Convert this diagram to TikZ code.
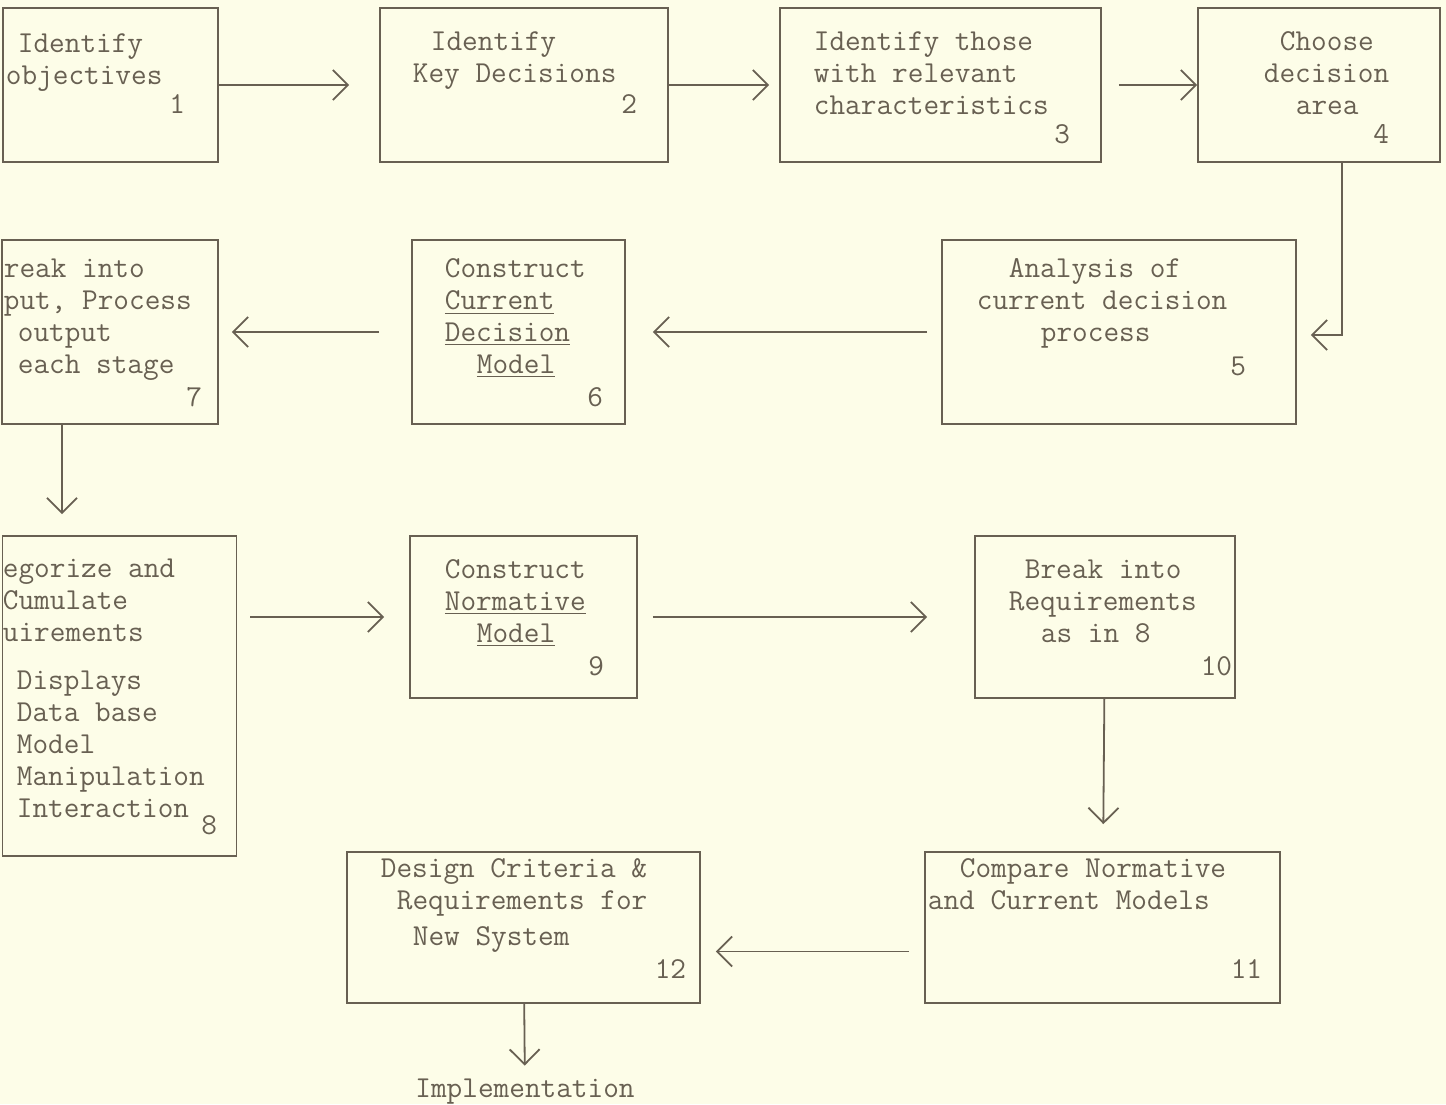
\documentclass[tikz,border=0pt]{standalone}
\usepackage{xcolor}
\usetikzlibrary{arrows.meta,positioning}
\definecolor{paper}{RGB}{253,253,232}
\definecolor{ink}{RGB}{104,96,82}

\begin{document}
\begin{tikzpicture}[x=0.5pt, y=-0.5pt, ->, >={Straight Barb[length=7.5pt,width=15pt]}, line width=0.9pt, draw=ink]

\tikzstyle{box}=[draw=ink, rectangle, inner sep=0pt]
\tikzstyle{txt}=[text=ink, font=\fontsize{15.2}{16}\selectfont\ttfamily, inner sep=0pt, anchor=north west, align=left]
\tikzstyle{num}=[txt, anchor=base east]

\fill[-, paper] (0,0) rectangle (1446,1104);
\useasboundingbox (0,0) rectangle (1446,1104);

% boxes
\node[box, minimum width=107.5pt, minimum height=77pt] (b1) at (110.5,85) {};
\node[box, minimum width=144pt, minimum height=77pt] (b2) at (524,85) {};
\node[box, minimum width=160.5pt, minimum height=77pt] (b3) at (940.5,85) {};
\node[box, minimum width=121pt, minimum height=77pt] (b4) at (1319,85) {};
\node[box, minimum width=177pt, minimum height=92pt] (b5) at (1119,332) {};
\node[box, minimum width=106.5pt, minimum height=92pt] (b6) at (518.5,332) {};
\node[box, minimum width=108pt, minimum height=92pt] (b7) at (110,332) {};
\node[box, minimum width=117pt, minimum height=160pt] (b8) at (119.5,696) {};
\node[box, minimum width=113.5pt, minimum height=81pt] (b9) at (523.5,617) {};
\node[box, minimum width=130pt, minimum height=81pt] (b10) at (1105,617) {};
\node[box, minimum width=177.5pt, minimum height=75.5pt] (b11) at (1102.5,927.5) {};
\node[box, minimum width=176.5pt, minimum height=75.5pt] (b12) at (523.5,927.5) {};

% texts
\node[txt] (t1) at (5,33) {\hspace*{6pt}Identify\\objectives};
\node[txt] (t2) at (412,31) {\hspace*{9pt}Identify\\Key Decisions};
\node[txt] (t3) at (813,31) {Identify those\\with relevant\\characteristics};
\node[txt] (t4) at (1263,31) {\hspace*{8pt}Choose\\decision\\\hspace*{16pt}area};
\node[txt] (t5) at (976,258) {\hspace*{16pt}Analysis of\\current decision\\\hspace*{32pt}process};
\node[txt] (t6) at (444,258) {Construct\\\underline{Current}\\\underline{Decision}\\\hspace*{16pt}\underline{Model}};
\node[txt] (t7) at (3,258) {reak into\\put, Process\\\hspace*{7pt}output\\\hspace*{7pt}each stage};
\node[txt] (t8) at (2,558) {egorize and\\Cumulate\\uirements\\[8pt]\hspace*{7pt}Displays\\\hspace*{7pt}Data base\\\hspace*{7pt}Model\\\hspace*{7pt}Manipulation\\\hspace*{7pt}Interaction};
\node[txt] (t9) at (444,559) {Construct\\\underline{Normative}\\\hspace*{16pt}\underline{Model}};
\node[txt] (t10) at (1008,559) {\hspace*{8pt}Break into\\Requirements\\\hspace*{16pt}as in 8};
\node[txt] (t11) at (927,858) {\hspace*{16pt}Compare Normative\\and Current Models};
\node[txt] (t12) at (380,858) {Design Criteria \&\\\hspace*{8pt}Requirements for\\[2pt]\hspace*{16pt}New System};
\node[txt, anchor=base] (impl) at (525,1097) {Implementation};

% numbers
\node[num] (n1) at (186,113) {1};
\node[num] (n2) at (638,113) {2};
\node[num] (n3) at (1071,143) {3};
\node[num] (n4) at (1390,143) {4};
\node[num] (n5) at (1247,375) {5};
\node[num] (n6) at (604,406) {6};
\node[num] (n7) at (203,406) {7};
\node[num] (n8) at (218,834) {8};
\node[num] (n9) at (605,675) {9};
\node[num] (n10) at (1233,675) {10};
\node[num] (n11) at (1263,978) {11};
\node[num] (n12) at (687,978) {12};

% connectors
\path
(b1) edge[shorten >=15pt] (b2)
(b2) edge[shorten >=5pt] (b3)
(b3) edge[shorten <=8.5pt] (b4)
(b5) edge[shorten <=7pt, shorten >=13.5pt] (b6)
(b6) edge[shorten <=16pt, shorten >=6.5pt] (b7)
(b8.east |- b9.west) edge[shorten <=6.5pt, shorten >=12.5pt] (b9.west)
(b9) edge[shorten <=7.5pt, shorten >=23.5pt] (b10)
(b10) edge[shorten >=13.5pt] (b11)
([yshift=-12pt]b11.west) edge[shorten <=7.5pt, shorten >=7.5pt] ([yshift=-12pt]b12.east)
(b12) edge[shorten >=6pt] (impl);

\draw[shorten >=7pt] ([xshift=11.5pt]b4.south) |- ([yshift=-1.5pt]b5.east);
\draw[shorten >=10.5pt] ([xshift=-24pt]b7.south) -- ([xshift=-24pt]b7.south |- b8.north);

\end{tikzpicture}
\end{document}
